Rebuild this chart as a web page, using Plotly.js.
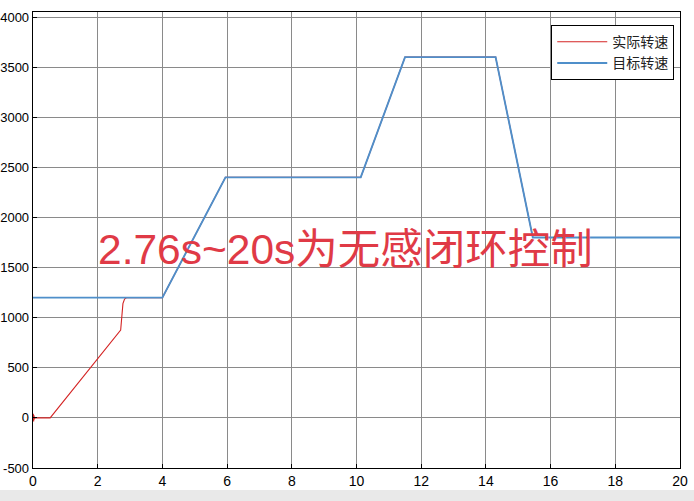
<!DOCTYPE html>
<html>
<head>
<meta charset="utf-8">
<script src="https://cdn.plot.ly/plotly-3.0.1.min.js"></script>
<style>html,body{margin:0;padding:0;background:#fff;}#chart{width:694px;height:501px;}</style>
</head>
<body>
<div id="chart"></div>
<script>
// Actual speed (实际转速)
const actualT = [0, 0.01, 0.02, 0.03, 0.04, 0.06, 0.53, 2.71, 2.73, 2.75, 2.78, 2.83, 2.9, 4.0, 5.95, 10.13, 11.5, 14.3, 15.45, 20];
const actualV = [0, 40, -35, 25, -15, 0, 0, 877, 960, 1060, 1140, 1185, 1200, 1200, 2400, 2400, 3600, 3600, 1800, 1800];
// Target speed (目标转速)
const targetT = [0, 4.0, 5.95, 10.13, 11.5, 14.3, 15.45, 20];
const targetV = [1200, 1200, 2400, 2400, 3600, 3600, 1800, 1800];
const seriesNames = ['实际转速', '目标转速'];
const xTicks = [0, 2, 4, 6, 8, 10, 12, 14, 16, 18, 20];
const yTicks = [-500, 0, 500, 1000, 1500, 2000, 2500, 3000, 3500, 4000];
const noteText = '2.76s~20s为无感闭环控制';

const cjk = 'Liberation Sans, Arial, "Noto Sans CJK SC", sans-serif';

const traces = [
  {x: actualT, y: actualV, name: seriesNames[0], mode: 'lines', type: 'scatter',
   line: {color: '#d42424', width: 1.1}},
  {x: targetT, y: targetV, name: seriesNames[1], mode: 'lines', type: 'scatter',
   line: {color: '#4f8fca', width: 1.9}}
];

const layout = {
  width: 694, height: 501,
  margin: {l: 33, r: 14, t: 12, b: 33, pad: 0},
  paper_bgcolor: '#ffffff', plot_bgcolor: '#ffffff',
  font: {family: cjk, size: 13, color: '#000'},
  showlegend: true,
  legend: {x: 0.801, y: 0.971, xanchor: 'left', yanchor: 'top',
    bgcolor: '#ffffff', bordercolor: '#000', borderwidth: 1,
    font: {family: '"Noto Sans CJK SC", sans-serif', size: 14, color: '#222'},
    itemwidth: 50, tracegroupgap: 0},
  xaxis: {range: [0, 20], tickvals: xTicks, ticktext: xTicks.map(String),
    showgrid: true, gridcolor: '#8a8a8a', gridwidth: 1, zeroline: false,
    showline: true, linecolor: '#000', linewidth: 1.3, mirror: true,
    ticks: 'inside', ticklen: 4, tickcolor: '#000',
    tickfont: {family: cjk, size: 14, color: '#000'}},
  yaxis: {range: [-500, 4050], tickvals: yTicks, ticktext: yTicks.map(String),
    showgrid: true, gridcolor: '#8a8a8a', gridwidth: 1, zeroline: false,
    showline: true, linecolor: '#000', linewidth: 1.3, mirror: true,
    ticks: 'inside', ticklen: 4, tickcolor: '#000',
    tickfont: {family: cjk, size: 13, color: '#000'}},
  annotations: [{
    x: 9.66, y: 1676, xref: 'x', yref: 'y', text: noteText, showarrow: false,
    xanchor: 'center', yanchor: 'middle',
    font: {family: 'Liberation Sans, Arial, "Noto Sans CJK SC", sans-serif', size: 42.5, color: '#e03a46'}
  }],
  shapes: [{
    type: 'rect', xref: 'paper', yref: 'paper', x0: -0.06, x1: 1.03, y0: -0.048, y1: -0.08,
    fillcolor: '#e9e9e9', line: {width: 0}, layer: 'below'
  }]
};

Plotly.newPlot('chart', traces, layout, {displayModeBar: false, staticPlot: true});
</script>
</body>
</html>
